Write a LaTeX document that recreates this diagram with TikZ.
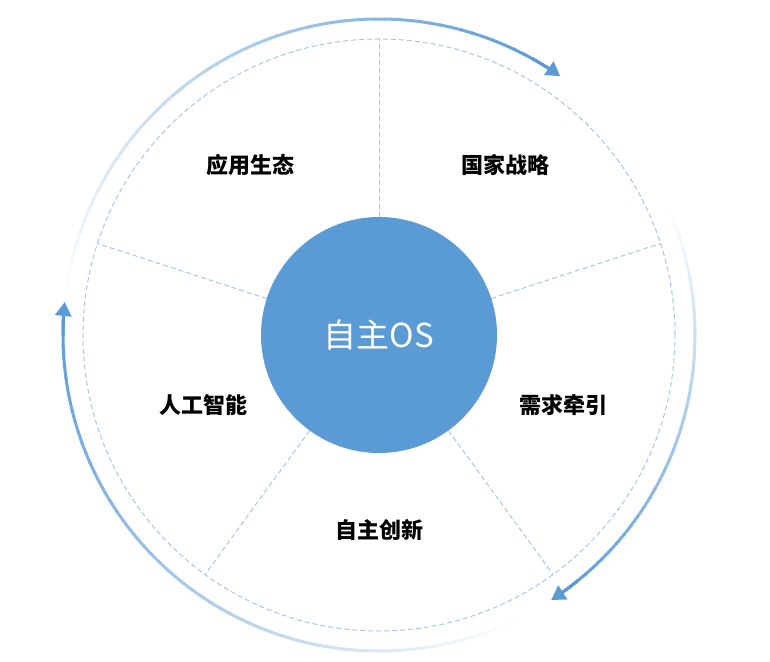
\documentclass[tikz,border=0pt]{standalone}
\usepackage{fontspec}
\newfontfamily\cjk{Noto Sans CJK SC}
\usetikzlibrary{arrows.meta,calc}
\definecolor{mb}{HTML}{5B9BD5}
\definecolor{db}{HTML}{A9C6E6}
\begin{document}
\begin{tikzpicture}[x=1pt,y=1pt,
  lbl/.style={font=\cjk\fontsize{22}{24}\selectfont\bfseries, text=black},
  div/.style={db, dash pattern=on 5pt off 3pt, line width=1pt},
  ring/.style={line width=3pt, line cap=butt}]
\useasboundingbox (0,0) rectangle (770,661);
\coordinate (c) at (379,326);
\draw[div] (c) circle (296);
\foreach \ang in {90,18,-54,-126,162}
  \draw[div] ($(c)+(\ang:118)$) -- ($(c)+(\ang:296)$);
\node[circle, fill=mb, minimum size=236, inner sep=0, text=white,
      font=\cjk\fontsize{33}{35}\selectfont] (core) at (c) {自主OS};
\node[lbl] (a) at (250,496) {应用生态};
\node[lbl] (b) at (505,496) {国家战略};
\node[lbl] (d) at (563,256) {需求牵引};
\node[lbl] (e) at (379,131) {自主创新};
\node[lbl] (f) at (203,256) {人工智能};
% top arc 175 -> 57
\foreach \i [evaluate=\i as \a using 175-2*\i, evaluate=\i as \p using \i/58*100] in {0,...,58}
  \draw[ring, mb!\p!white] ($(c)+(\a:316)$) arc (\a:\a-2.3:316);
\draw[ring, mb, -{Triangle[length=14pt,width=16pt]}] ($(c)+(61:316)$) arc (61:55:316);
% right arc 25 -> -55
\foreach \i [evaluate=\i as \a using 25-2*\i, evaluate=\i as \p using \i/39*100] in {0,...,39}
  \draw[ring, mb!\p!white] ($(c)+(\a:316)$) arc (\a:\a-2.3:316);
\draw[ring, mb, -{Triangle[length=14pt,width=16pt]}] ($(c)+(-51:316)$) arc (-51:-57:316);
% bottom arc -62 -> -184
\foreach \i [evaluate=\i as \a using -62-2*\i, evaluate=\i as \p using \i/60*100] in {0,...,60}
  \draw[ring, mb!\p!white] ($(c)+(\a:316)$) arc (\a:\a-2.3:316);
\draw[ring, mb, -{Triangle[length=14pt,width=16pt]}] ($(c)+(-180:316)$) arc (-180:-186:316);
\end{tikzpicture}
\end{document}
